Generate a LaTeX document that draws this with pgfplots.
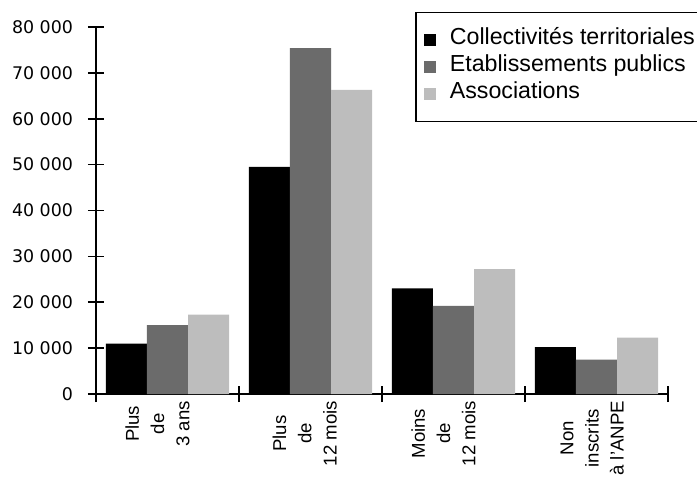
\documentclass[border=0pt]{standalone}
\usepackage{fontspec}
\setmainfont{Liberation Sans}
\newfontfamily\dejavu{DejaVu Sans}
\usepackage{pgfplots}
\pgfplotsset{compat=1.18}
\definecolor{darkht}{gray}{0.42}
\definecolor{lightht}{gray}{0.74}
\begin{document}
\begin{tikzpicture}
\useasboundingbox (0,0) rectangle (348.5pt,244.5pt);
\begin{axis}[
  at={(48pt,47.5pt)}, anchor=south west,
  scale only axis, width=286pt, height=183.5pt,
  xmin=-0.5, xmax=3.5, ymin=0, ymax=80000,
  axis lines*=left,
  x axis line style={line width=1.4pt},
  y axis line style={line width=1pt},
  ybar=0pt, bar width=0.287,
  scaled y ticks=false,
  ytick={0,10000,20000,30000,40000,50000,60000,70000,80000},
  yticklabels={0,10 000,20 000,30 000,40 000,50 000,60 000,70 000,80 000},
  yticklabel style={font=\fontsize{8.7}{10}\dejavu, xshift=-4pt},
  xtick={-0.5,0.5,1.5,2.5,3.5},
  xticklabels={},
  tick align=center, major tick length=8pt,
  tick style={line width=0.8pt, black},
  extra x ticks={-0.07,0.96,1.93,2.97},
  extra x tick labels={{Plus\\[1.8pt]de\\[1.8pt]3 ans},{Plus\\[1.8pt]de\\[1.8pt]12 mois},{Moins\\[1.8pt]de\\[1.8pt]12 mois},{Non\\[1.8pt]inscrits\\[1.8pt]à l'ANPE}},
  extra x tick style={major tick length=0pt},
  xticklabel style={rotate=90, anchor=east, align=center, font=\fontsize{9.3}{10.8}\selectfont},
  legend style={at={(0.558,1.041)}, anchor=north west, draw=black, line width=0.7pt,
    font=\fontsize{11.6}{13}\selectfont, legend cell align=left,
    inner xsep=4pt, inner ysep=7pt,
    nodes={inner sep=0pt, text height=9pt, text depth=4.5pt},
    /tikz/every odd column/.append style={column sep=7pt}},
  legend image code/.code={\fill[#1] (0pt,-3pt) rectangle (6pt,3pt);},
]
\addplot[fill=black, draw=none] coordinates {(0,11000) (1,49500) (2,23000) (3,10200)};
\addplot[fill=darkht, draw=none] coordinates {(0,15000) (1,75400) (2,19200) (3,7500)};
\addplot[fill=lightht, draw=none] coordinates {(0,17300) (1,66300) (2,27200) (3,12300)};
\legend{Collectivités territoriales, Etablissements publics, Associations}
\end{axis}
\end{tikzpicture}
\end{document}
